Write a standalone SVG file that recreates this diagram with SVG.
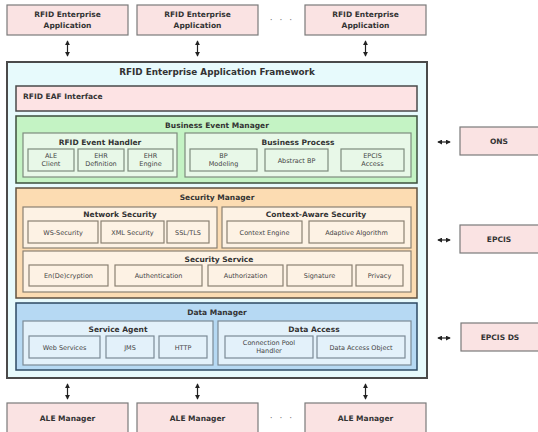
<svg xmlns="http://www.w3.org/2000/svg" width="538" height="432" viewBox="0 0 538 432">
<style>
  text { font-family: "DejaVu Sans", Verdana, sans-serif; fill: #333; text-anchor: middle; }
  .h { font-size: 8.8px; font-weight: bold; }
  .t { font-size: 7.5px; font-weight: bold; }
  .s { font-size: 6.5px; fill: #444; }
  .dots { font-size: 9px; fill: #777; letter-spacing: 2px; }
  .ext { fill: #fae3e3; stroke: #7a7a7a; stroke-width: 1.2; }
  .fw { fill: #e7fafc; stroke: #4a4a4a; stroke-width: 2; }
  .eaf { fill: #fde3e4; stroke: #4a4a4a; stroke-width: 1.5; }
  .grn { fill: #c4f3c4; stroke: #3c4f3c; stroke-width: 1.5; }
  .grn2 { fill: #e8f8e8; stroke: #7d8c7d; stroke-width: 1.2; }
  .org { fill: #fcdcb2; stroke: #5f5140; stroke-width: 1.5; }
  .org2 { fill: #fdf2e4; stroke: #8a8072; stroke-width: 1.2; }
  .blu { fill: #b6d9f3; stroke: #2e4a63; stroke-width: 1.5; }
  .blu2 { fill: #e3f1fa; stroke: #7b8a96; stroke-width: 1.2; }
  .ln { stroke: #222; stroke-width: 1.2; fill: none; marker-start: url(#ah); marker-end: url(#ah); }
</style>
<defs>
  <marker id="ah" viewBox="0 0 6 6" refX="5" refY="3" markerWidth="5" markerHeight="5" orient="auto-start-reverse" markerUnits="userSpaceOnUse">
    <path d="M0,0 L6,3 L0,6 Z" fill="#222"/>
  </marker>
</defs>

<!-- applications on top -->
<g id="app1"><rect class="ext" x="7" y="5" width="121" height="30"/><text class="t" x="67.5" y="17">RFID Enterprise</text><text class="t" x="67.5" y="28">Application</text></g>
<g id="app2"><rect class="ext" x="137" y="5" width="121" height="30"/><text class="t" x="197.5" y="17">RFID Enterprise</text><text class="t" x="197.5" y="28">Application</text></g>
<g id="app3"><rect class="ext" x="305" y="5" width="121" height="30"/><text class="t" x="365.5" y="17">RFID Enterprise</text><text class="t" x="365.5" y="28">Application</text></g>
<text class="dots" x="282" y="23">· · ·</text>

<!-- framework -->
<g id="framework">
  <rect class="fw" x="7" y="62" width="420" height="316"/>
  <text class="h" x="217" y="75">RFID Enterprise Application Framework</text>
</g>

<g id="eaf-interface">
  <rect class="eaf" x="16" y="86" width="401" height="25"/>
  <text class="t" x="23" y="99" style="text-anchor:start">RFID EAF Interface</text>
</g>

<!-- business event manager -->
<g id="business-event-manager">
  <rect class="grn" x="16" y="116" width="401" height="67"/>
  <text class="t" x="217" y="128">Business Event Manager</text>
  <g id="rfid-event-handler">
    <rect class="grn2" x="23" y="133" width="154" height="44"/>
    <text class="t" x="100" y="145">RFID Event Handler</text>
    <rect class="grn2" x="28" y="149" width="46" height="22"/><text class="s" x="51" y="158">ALE</text><text class="s" x="51" y="166">Client</text>
    <rect class="grn2" x="78" y="149" width="46" height="22"/><text class="s" x="101" y="158">EHR</text><text class="s" x="101" y="166">Definition</text>
    <rect class="grn2" x="128" y="149" width="45" height="22"/><text class="s" x="150.5" y="158">EHR</text><text class="s" x="150.5" y="166">Engine</text>
  </g>
  <g id="business-process">
    <rect class="grn2" x="185" y="133" width="226" height="44"/>
    <text class="t" x="298" y="145">Business Process</text>
    <rect class="grn2" x="190" y="149" width="67" height="22"/><text class="s" x="223.5" y="158">BP</text><text class="s" x="223.5" y="166">Modeling</text>
    <rect class="grn2" x="265" y="149" width="63" height="22"/><text class="s" x="296.5" y="162.5">Abstract BP</text>
    <rect class="grn2" x="341" y="149" width="63" height="22"/><text class="s" x="372.5" y="158">EPCIS</text><text class="s" x="372.5" y="166">Access</text>
  </g>
</g>

<!-- security manager -->
<g id="security-manager">
  <rect class="org" x="16" y="188" width="401" height="110"/>
  <text class="t" x="217" y="200">Security Manager</text>
  <g id="network-security">
    <rect class="org2" x="23" y="207" width="194" height="41"/>
    <text class="t" x="120" y="217">Network Security</text>
    <rect class="org2" x="28" y="221" width="70" height="22"/><text class="s" x="63" y="234.5">WS-Security</text>
    <rect class="org2" x="101" y="221" width="63" height="22"/><text class="s" x="132.5" y="234.5">XML Security</text>
    <rect class="org2" x="167" y="221" width="42" height="22"/><text class="s" x="188" y="234.5">SSL/TLS</text>
  </g>
  <g id="context-aware-security">
    <rect class="org2" x="222" y="207" width="189" height="41"/>
    <text class="t" x="316" y="217">Context-Aware Security</text>
    <rect class="org2" x="227" y="221" width="75" height="22"/><text class="s" x="264.5" y="234.5">Context Engine</text>
    <rect class="org2" x="309" y="221" width="95" height="22"/><text class="s" x="356.5" y="234.5">Adaptive Algorithm</text>
  </g>
  <g id="security-service">
    <rect class="org2" x="23" y="251" width="388" height="41"/>
    <text class="t" x="219" y="262">Security Service</text>
    <rect class="org2" x="29" y="265" width="79" height="21"/><text class="s" x="68.5" y="278">En(De)cryption</text>
    <rect class="org2" x="115" y="265" width="87" height="21"/><text class="s" x="158.5" y="278">Authentication</text>
    <rect class="org2" x="208" y="265" width="75" height="21"/><text class="s" x="245.5" y="278">Authorization</text>
    <rect class="org2" x="287" y="265" width="65" height="21"/><text class="s" x="319.5" y="278">Signature</text>
    <rect class="org2" x="356" y="265" width="47" height="21"/><text class="s" x="379.5" y="278">Privacy</text>
  </g>
</g>

<!-- data manager -->
<g id="data-manager">
  <rect class="blu" x="16" y="303" width="401" height="67"/>
  <text class="t" x="217" y="315">Data Manager</text>
  <g id="service-agent">
    <rect class="blu2" x="23" y="321" width="190" height="44"/>
    <text class="t" x="118" y="332">Service Agent</text>
    <rect class="blu2" x="29" y="336" width="71" height="22"/><text class="s" x="64.5" y="349.5">Web Services</text>
    <rect class="blu2" x="106" y="336" width="48" height="22"/><text class="s" x="130" y="349.5">JMS</text>
    <rect class="blu2" x="159" y="336" width="48" height="22"/><text class="s" x="183" y="349.5">HTTP</text>
  </g>
  <g id="data-access">
    <rect class="blu2" x="218" y="321" width="193" height="44"/>
    <text class="t" x="314" y="332">Data Access</text>
    <rect class="blu2" x="225" y="336" width="88" height="22"/><text class="s" x="269" y="345">Connection Pool</text><text class="s" x="269" y="353">Handler</text>
    <rect class="blu2" x="317" y="336" width="88" height="22"/><text class="s" x="361" y="349.5">Data Access Object</text>
  </g>
</g>

<!-- external services on the right -->
<g id="ons"><rect class="ext" x="460" y="127" width="82" height="28"/><text class="t" x="499" y="144">ONS</text></g>
<g id="epcis"><rect class="ext" x="460" y="225" width="82" height="28"/><text class="t" x="499" y="242">EPCIS</text></g>
<g id="epcis-ds"><rect class="ext" x="461" y="323" width="81" height="28"/><text class="t" x="500" y="340">EPCIS DS</text></g>

<!-- ALE managers at the bottom -->
<g id="ale1"><rect class="ext" x="7" y="403" width="121" height="30"/><text class="t" x="67.5" y="421">ALE Manager</text></g>
<g id="ale2"><rect class="ext" x="137" y="403" width="121" height="30"/><text class="t" x="197.5" y="421">ALE Manager</text></g>
<g id="ale3"><rect class="ext" x="305" y="403" width="121" height="30"/><text class="t" x="365.5" y="421">ALE Manager</text></g>
<text class="dots" x="282" y="421">· · ·</text>

<!-- connectors -->
<g id="connectors">
  <line class="ln" x1="67.5" y1="41" x2="67.5" y2="56"/>
  <line class="ln" x1="197.5" y1="41" x2="197.5" y2="56"/>
  <line class="ln" x1="365.5" y1="41" x2="365.5" y2="56"/>
  <line class="ln" x1="67.5" y1="384" x2="67.5" y2="399"/>
  <line class="ln" x1="197.5" y1="384" x2="197.5" y2="399"/>
  <line class="ln" x1="365.5" y1="384" x2="365.5" y2="399"/>
  <line class="ln" x1="438" y1="142" x2="450" y2="142"/>
  <line class="ln" x1="438" y1="240" x2="450" y2="240"/>
  <line class="ln" x1="438" y1="338" x2="450" y2="338"/>
</g>
</svg>
